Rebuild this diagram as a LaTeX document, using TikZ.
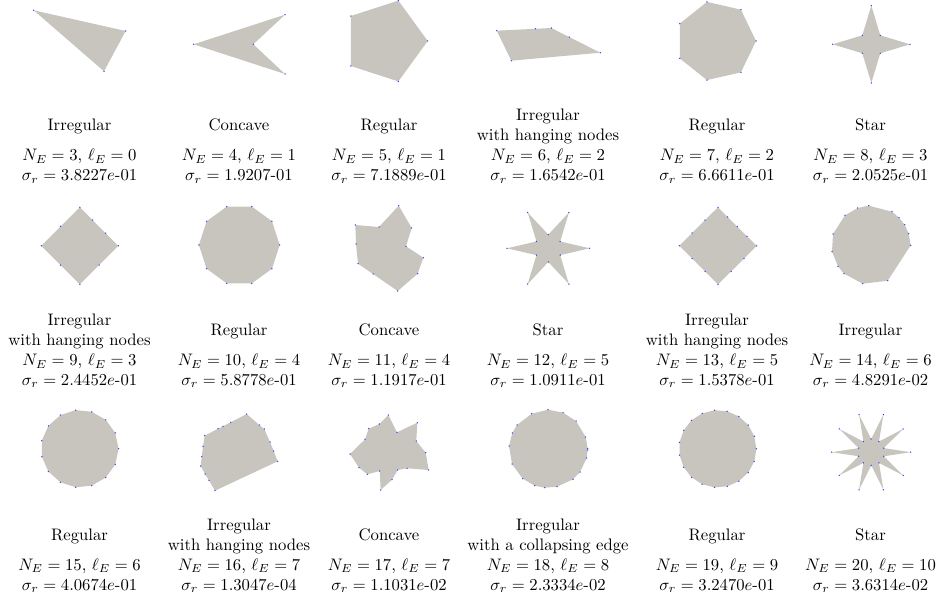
\documentclass[tikz,border=0pt]{standalone}
\usepackage{tikz}
\definecolor{polygray}{RGB}{199,197,190}
\definecolor{vblue}{RGB}{60,60,255}
\tikzset{
  polyfill/.style={fill=polygray},
  vdot/.style={fill=vblue},
  lbl/.style={anchor=base, inner sep=0pt}
}
\newcommand\regpoly[4]{% cx cy N R
  \pgfmathtruncatemacro\rpN{#3-1}
  \begin{scope}[shift={(#1,#2)}]
    \fill[polyfill] (0:#4) \foreach \i in {1,...,\rpN}{ -- (\i*360/#3:#4)} -- cycle;
    \foreach \i in {0,...,\rpN}{\fill[vdot] (\i*360/#3:#4) circle[radius=0.45pt];}
  \end{scope}}
\newcommand\starpoly[5]{% cx cy n R r
  \pgfmathtruncatemacro\spN{#3-1}
  \begin{scope}[shift={(#1,#2)}]
    \fill[polyfill] (0:#4) \foreach \k in {0,...,\spN}{ -- (\k*360/#3+180/#3:#5) -- (\k*360/#3+360/#3:#4)} -- cycle;
    \foreach \k in {0,...,\spN}{\fill[vdot] (\k*360/#3:#4) circle[radius=0.45pt];
      \fill[vdot] (\k*360/#3+180/#3:#5) circle[radius=0.45pt];}
  \end{scope}}
\newcommand\irrpoly[2]{% first point, rest list x/y
  \fill[polyfill] (#1) \foreach \x/\y in {#2}{ -- (\x,\y)} -- cycle;
  \fill[vdot] (#1) circle[radius=0.45pt];
  \foreach \x/\y in {#2}{\fill[vdot] (\x,\y) circle[radius=0.45pt];}}
\begin{document}
\begin{tikzpicture}[x=0.6pt,y=-0.6pt]
\useasboundingbox (0,0) rectangle (939,598);
% ---------- Row 1 ----------
\irrpoly{33.7,10.3}{125.7/31, 104/71.3}
\irrpoly{193.7,44.3}{285/14.7, 253.3/44.3, 285/74}
\regpoly{385.2}{41}{5}{42.5}
\irrpoly{496.7,30.7}{535.3/28.8, 551.3/28, 569.3/37.1, 600.3/52.7, 511.3/60.7}
\regpoly{715.9}{41}{7}{40.1}
\starpoly{871.3}{44.3}{4}{38.7}{12.7}
% ---------- Row 2 ----------
\irrpoly{79.8,207.3}{92.6/220.1, 105.6/233.2, 118.3/245.8, 99.1/265.1, 79.8/284.3, 60.5/265.1, 41.3/245.8, 60.5/226.5}
\regpoly{239.3}{245}{10}{40.4}
\irrpoly{355.3,225}{379/227, 398.7/205.7, 411.7/228, 406/246.3, 423.3/257.7, 417.7/273.7, 397.7/291, 373/274, 358/263.7, 356/244}
\starpoly{548.3}{248.3}{6}{41.3}{13.7}
\irrpoly{718,207.3}{727.6/216.9, 737.3/226.6, 747/236.3, 756.7/245.8, 743.9/258.6, 731/271.5, 718/284.3, 705/271.5, 692.1/258.6, 679.3/245.8, 692.1/233, 705/220.1}
\irrpoly{868.7,205.7}{892/211.7, 899/217.7, 904.7/224.7, 908.7/233.7, 910.7/245.3, 887.7/280.7, 862.7/283.7, 844/273.7, 838/266.3, 832/251.7, 833/234, 845/215.3, 857.7/208}
% ---------- Row 3 ----------
\regpoly{79.8}{448.7}{15}{38.8}
\irrpoly{246.7,414}{259.3/425, 264.3/429, 270/442, 273.7/451, 277.7/461.3, 215/490.7, 209/480.3, 205/474, 200.7/466, 201.7/456.7, 203/446.3, 204.7/435.7, 218/428.7, 223/426.3, 230.7/422.3}
\irrpoly{388.3,415}{397/432.3, 417.3/422.7, 416.3/441, 425.7/452.7, 428.7/470, 407/468.3, 397.7/470, 392/479.7, 380.7/490, 379.7/471, 367.3/474.3, 359/467.7, 350/454, 365/439.3, 368.7/428.7, 379.3/424}
\irrpoly{548,409.7}{563/412.7, 576/421, 585.7/437, 587.7/448.7, 587.7/450, 586.7/458, 580/472, 573/479.3, 557/486.7, 544.7/487.7, 534.7/485.7, 522.7/478.7, 512/464, 509/446, 512.3/433, 517/425, 531.7/413.7}
\regpoly{717.7}{448.8}{19}{38.7}
\starpoly{871.2}{452.2}{10}{39.5}{13.2}
% ---------- Labels ----------
% row 1 (base 116.5)
\node[lbl] (t3)  at (79.5,131) {Irregular};
\node[lbl] (n3)  at (79.5,161) {$N_E = 3$, $\ell_E = 0$};
\node[lbl] (s3)  at (79.5,181) {$\sigma_r = 3.8227e$-01};
\node[lbl] (t4)  at (239,131) {Concave};
\node[lbl] (n4)  at (239,161) {$N_E = 4$, $\ell_E = 1$};
\node[lbl] (s4)  at (239,181) {$\sigma_r = 1.9207$-01};
\node[lbl] (t5)  at (389,131) {Regular};
\node[lbl] (n5)  at (389,161) {$N_E = 5$, $\ell_E = 1$};
\node[lbl] (s5)  at (389,181) {$\sigma_r = 7.1889e$-01};
\node[lbl] (t6a) at (548,121) {Irregular};
\node[lbl] (t6b) at (548,141) {with hanging nodes};
\node[lbl] (n6)  at (548,161) {$N_E = 6$, $\ell_E = 2$};
\node[lbl] (s6)  at (548,181) {$\sigma_r = 1.6542e$-01};
\node[lbl] (t7)  at (717,131) {Regular};
\node[lbl] (n7)  at (717,161) {$N_E = 7$, $\ell_E = 2$};
\node[lbl] (s7)  at (717,181) {$\sigma_r = 6.6611e$-01};
\node[lbl] (t8)  at (870.5,131) {Star};
\node[lbl] (n8)  at (870.5,161) {$N_E = 8$, $\ell_E = 3$};
\node[lbl] (s8)  at (870.5,181) {$\sigma_r = 2.0525e$-01};
% row 2
\node[lbl] (t9a) at (79.5,325.5) {Irregular};
\node[lbl] (t9b) at (79.5,345.5) {with hanging nodes};
\node[lbl] (n9)  at (79.5,365.5) {$N_E = 9$, $\ell_E = 3$};
\node[lbl] (s9)  at (79.5,385.5) {$\sigma_r = 2.4452e$-01};
\node[lbl] (t10) at (239,335.5) {Regular};
\node[lbl] (n10) at (239,365.5) {$N_E = 10$, $\ell_E = 4$};
\node[lbl] (s10) at (239,385.5) {$\sigma_r = 5.8778e$-01};
\node[lbl] (t11) at (389,335.5) {Concave};
\node[lbl] (n11) at (389,365.5) {$N_E = 11$, $\ell_E = 4$};
\node[lbl] (s11) at (389,385.5) {$\sigma_r = 1.1917e$-01};
\node[lbl] (t12) at (548,335.5) {Star};
\node[lbl] (n12) at (548,365.5) {$N_E = 12$, $\ell_E = 5$};
\node[lbl] (s12) at (548,385.5) {$\sigma_r = 1.0911e$-01};
\node[lbl] (t13a) at (717,325.5) {Irregular};
\node[lbl] (t13b) at (717,345.5) {with hanging nodes};
\node[lbl] (n13) at (717,365.5) {$N_E = 13$, $\ell_E = 5$};
\node[lbl] (s13) at (717,385.5) {$\sigma_r = 1.5378e$-01};
\node[lbl] (t14) at (870.5,335.5) {Irregular};
\node[lbl] (n14) at (870.5,365.5) {$N_E = 14$, $\ell_E = 6$};
\node[lbl] (s14) at (870.5,385.5) {$\sigma_r = 4.8291e$-02};
% row 3
\node[lbl] (t15) at (79.5,540) {Regular};
\node[lbl] (n15) at (79.5,570) {$N_E = 15$, $\ell_E = 6$};
\node[lbl] (s15) at (79.5,590) {$\sigma_r = 4.0674e$-01};
\node[lbl] (t16a) at (239,530) {Irregular};
\node[lbl] (t16b) at (239,550) {with hanging nodes};
\node[lbl] (n16) at (239,570) {$N_E = 16$, $\ell_E = 7$};
\node[lbl] (s16) at (239,590) {$\sigma_r = 1.3047e$-04};
\node[lbl] (t17) at (389,540) {Concave};
\node[lbl] (n17) at (389,570) {$N_E = 17$, $\ell_E = 7$};
\node[lbl] (s17) at (389,590) {$\sigma_r = 1.1031e$-02};
\node[lbl] (t18a) at (548,530) {Irregular};
\node[lbl] (t18b) at (548,550) {with a collapsing edge};
\node[lbl] (n18) at (548,570) {$N_E = 18$, $\ell_E = 8$};
\node[lbl] (s18) at (548,590) {$\sigma_r = 2.3334e$-02};
\node[lbl] (t19) at (717,540) {Regular};
\node[lbl] (n19) at (717,570) {$N_E = 19$, $\ell_E = 9$};
\node[lbl] (s19) at (717,590) {$\sigma_r = 3.2470e$-01};
\node[lbl] (t20) at (870.5,540) {Star};
\node[lbl] (n20) at (870.5,570) {$N_E = 20$, $\ell_E = 10$};
\node[lbl] (s20) at (870.5,590) {$\sigma_r = 3.6314e$-02};
\end{tikzpicture}
\end{document}
